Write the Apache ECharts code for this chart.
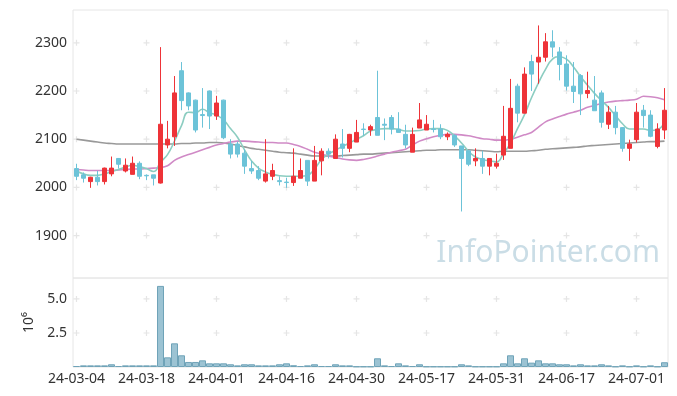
<!DOCTYPE html>
<html><head><meta charset="utf-8">
<script src="https://cdn.jsdelivr.net/npm/echarts@6/dist/echarts.min.js"></script>
<style>html,body{margin:0;padding:0;background:#fff}#c{width:677px;height:396px}</style>
</head><body><div id="c"></div>
<script>
const dates = [
'24-03-04','24-03-05','24-03-06','24-03-07','24-03-08','24-03-11','24-03-12','24-03-13','24-03-14','24-03-15',
'24-03-18','24-03-19','24-03-20','24-03-21','24-03-22','24-03-25','24-03-26','24-03-27','24-03-28','24-03-29',
'24-04-01','24-04-02','24-04-03','24-04-04','24-04-05','24-04-08','24-04-09','24-04-11','24-04-12','24-04-15',
'24-04-16','24-04-17','24-04-18','24-04-19','24-04-22','24-04-23','24-04-24','24-04-25','24-04-26','24-04-29',
'24-04-30','24-05-02','24-05-03','24-05-07','24-05-08','24-05-09','24-05-10','24-05-13','24-05-14','24-05-16',
'24-05-17','24-05-20','24-05-21','24-05-22','24-05-23','24-05-24','24-05-27','24-05-28','24-05-29','24-05-30',
'24-05-31','24-06-03','24-06-04','24-06-05','24-06-07','24-06-10','24-06-11','24-06-12','24-06-13','24-06-14',
'24-06-17','24-06-18','24-06-19','24-06-20','24-06-21','24-06-24','24-06-25','24-06-26','24-06-27','24-06-28',
'24-07-01','24-07-02','24-07-03','24-07-04','24-07-05'];
const opens = [
2039,2026,2012,2021,2012,2028,2060,2034,2027,2050,
2025,2026,2009,2088,2105,2242,2196,2181,2151,2200,
2148,2181,2090,2090,2071,2039,2035,2013,2023,2014,
2011,2010,2019,2056,2013,2055,2075,2060,2090,2081,
2094,2121,2119,2145,2131,2145,2121,2110,2073,2123,
2119,2121,2121,2105,2108,2086,2076,2055,2060,2044,
2044,2067,2081,2210,2154,2261,2260,2270,2302,2281,
2256,2210,2232,2195,2181,2196,2131,2156,2124,2081,
2099,2160,2150,2085,2119];
const closes = [
2023,2019,2021,2012,2040,2040,2048,2046,2050,2023,
2024,2019,2131,2100,2196,2180,2169,2119,2149,2148,
2175,2103,2069,2069,2044,2034,2019,2028,2035,2012,
2010,2023,2035,2013,2056,2075,2069,2100,2081,2110,
2114,2120,2126,2108,2129,2121,2114,2088,2110,2140,
2131,2120,2105,2110,2088,2060,2048,2060,2044,2060,
2050,2106,2164,2154,2235,2235,2270,2302,2291,2255,
2210,2199,2194,2201,2159,2135,2156,2124,2081,2090,
2156,2149,2106,2121,2160];
const lows = [
2015,2010,1999,2004,2006,2023,2039,2031,2027,2017,
2015,2004,2008,2081,2086,2160,2160,2114,2124,2121,
2140,2100,2060,2062,2028,2028,2015,2010,2015,2004,
1999,2003,2019,2003,2013,2025,2060,2060,2062,2073,
2094,2107,2107,2108,2098,2110,2114,2081,2073,2123,
2119,2114,2100,2098,2084,1950,2044,2044,2028,2025,
2039,2057,2081,2135,2154,2200,2215,2261,2270,2222,
2201,2175,2150,2185,2159,2124,2121,2110,2074,2055,
2093,2124,2104,2081,2100];
const highs = [
2049,2031,2022,2034,2041,2064,2061,2060,2064,2054,
2027,2026,2291,2138,2231,2260,2197,2182,2206,2201,
2190,2182,2100,2095,2079,2055,2044,2100,2049,2023,
2020,2081,2060,2056,2086,2081,2081,2110,2121,2111,
2140,2133,2130,2242,2143,2150,2156,2130,2124,2175,
2150,2140,2131,2114,2110,2086,2076,2081,2076,2060,
2070,2169,2225,2215,2249,2275,2336,2320,2326,2291,
2274,2260,2235,2240,2231,2201,2169,2169,2125,2099,
2175,2171,2160,2133,2206];
const ma5 = [
2034,2028,2025,2025,2028,2033,2037,2042,2046,2043,
2039,2033,2052,2068,2096,2128,2156,2155,2162,2155,
2150,2140,2122,2104,2078,2055,2040,2032,2027,2024,
2023,2023,2023,2025,2038,2058,2069,2077,2085,2092,
2100,2107,2117,2120,2122,2122,2120,2117,2117,2118,
2121,2122,2122,2118,2107,2092,2075,2063,2058,2055,
2053,2070,2092,2122,2151,2186,2217,2245,2266,2271,
2266,2250,2230,2212,2195,2180,2166,2149,2132,2121,
2121,2121,2118,2120,2135];
const ma20 = [
2037,2036,2035,2035,2035,2035,2036,2037,2038,2038,
2039,2040,2041,2045,2056,2063,2068,2073,2078,2083,
2088,2091,2094,2096,2096,2095,2094,2093,2093,2092,
2092,2089,2085,2079,2073,2069,2065,2062,2059,2057,
2056,2058,2061,2065,2069,2073,2076,2079,2088,2096,
2101,2105,2108,2110,2110,2109,2107,2104,2101,2100,
2098,2098,2100,2104,2109,2114,2125,2136,2142,2147,
2152,2156,2160,2166,2170,2174,2177,2179,2180,2181,
2183,2189,2188,2186,2182];
const ma60 = [
2100,2098,2096,2094,2092,2091,2090,2090,2090,2090,
2090,2090,2090,2090,2090,2091,2091,2092,2092,2093,
2093,2092,2090,2087,2084,2081,2079,2077,2075,2073,
2072,2071,2069,2067,2065,2065,2065,2065,2066,2067,
2068,2069,2069,2070,2071,2072,2073,2074,2075,2076,
2077,2077,2078,2078,2078,2078,2078,2077,2076,2075,
2074,2075,2075,2075,2075,2076,2077,2079,2080,2081,
2082,2083,2084,2086,2087,2088,2089,2090,2091,2092,
2093,2094,2095,2095,2096];
const volumes = [
70000,120000,120000,120000,120000,200000,70000,120000,120000,120000,
120000,120000,5960000,710000,1740000,860000,370000,370000,490000,270000,
270000,270000,200000,120000,200000,200000,120000,120000,120000,200000,
270000,130000,70000,120000,200000,70000,70000,200000,120000,120000,
40000,40000,40000,640000,120000,70000,270000,120000,70000,200000,
40000,40000,40000,40000,40000,200000,120000,40000,40000,40000,
40000,270000,860000,270000,640000,320000,490000,270000,270000,200000,
200000,120000,200000,120000,120000,200000,120000,40000,120000,40000,
120000,40000,120000,40000,350000];
const priceTicks = [1900,2000,2100,2200,2300];
const volTicks = [2500000,5000000];
const tickEvery = 10;

const ohlc = dates.map((d,i)=>[opens[i],closes[i],lows[i],highs[i]]);
const tickCats = dates.filter((d,i)=>i%tickEvery===0);
const crossPath = 'path://M0,2h5v1h-5z M2,0h1v5h-1z';
const priceCross = [], volCross = [];
tickCats.forEach(c=>{priceTicks.forEach(v=>priceCross.push([c,v])); volTicks.forEach(v=>volCross.push([c,v]));});

const FONT = 'Noto Sans';
const chart = echarts.init(document.getElementById('c'), null, {renderer:'canvas'});
chart.setOption({
  animation:false,
  backgroundColor:'#fff',
  textStyle:{fontFamily:FONT},
  grid:[
    {left:73, top:10, width:595, height:268, show:true, borderColor:'#e6e6e6', borderWidth:1, backgroundColor:'transparent'},
    {left:73, top:278, width:595, height:89, show:true, borderColor:'#e6e6e6', borderWidth:1, backgroundColor:'transparent'}
  ],
  graphic:[{type:'text', right:17, top:238, z:0, silent:true,
    style:{text:'InfoPointer.com', font:'30px "Noto Sans"', fill:'#cadde6'}}],
  xAxis:[
    {type:'category', gridIndex:0, data:dates, boundaryGap:true,
     axisLine:{show:false}, axisTick:{show:false}, axisLabel:{show:false}, splitLine:{show:false}},
    {type:'category', gridIndex:1, data:dates, boundaryGap:true,
     axisLine:{show:false}, axisTick:{show:false}, splitLine:{show:false},
     axisLabel:{interval:tickEvery-1, color:'#333', fontSize:14, fontFamily:FONT, margin:5, hideOverlap:false}}
  ],
  yAxis:[
    {type:'value', gridIndex:0, min:1812, max:2368, scale:true,
     axisLine:{show:false}, axisTick:{show:false}, splitLine:{show:false},
     axisLabel:{color:'#333', fontSize:14, fontFamily:FONT, margin:6, showMinLabel:false, showMaxLabel:false,
       formatter:v=>String(v)}},
    {type:'value', gridIndex:1, min:0, max:6540000, interval:2500000,
     name:'10\u2076', nameLocation:'middle', nameGap:37, nameRotate:90,
     nameTextStyle:{color:'#333', fontSize:14, fontFamily:FONT},
     axisLine:{show:false}, axisTick:{show:false}, splitLine:{show:false},
     axisLabel:{color:'#333', fontSize:14, fontFamily:FONT, margin:6, showMaxLabel:false,
       formatter:v=> v===0 ? '' : (v/1e6).toFixed(1)}}
  ],
  series:[
    {type:'scatter', xAxisIndex:0, yAxisIndex:0, data:priceCross, symbol:crossPath, symbolSize:6,
     itemStyle:{color:'#dedede'}, silent:true, z:1},
    {type:'scatter', xAxisIndex:1, yAxisIndex:1, data:volCross, symbol:crossPath, symbolSize:6,
     itemStyle:{color:'#dedede'}, silent:true, z:1},
    {type:'line', name:'MA60', xAxisIndex:0, yAxisIndex:0, data:ma60, smooth:true, showSymbol:false,
     lineStyle:{color:'#999999', width:1.6}, z:2},
    {type:'line', name:'MA20', xAxisIndex:0, yAxisIndex:0, data:ma20, smooth:0.3, showSymbol:false,
     lineStyle:{color:'#d08ac6', width:1.6}, z:2},
    {type:'line', name:'MA5', xAxisIndex:0, yAxisIndex:0, data:ma5, smooth:true, showSymbol:false,
     lineStyle:{color:'#8ccdc1', width:1.6}, z:2},
    {type:'candlestick', xAxisIndex:0, yAxisIndex:0, data:ohlc, barWidth:5,
     itemStyle:{color:'#ee3338', color0:'#6cc3d8', borderColor:'#ee3338', borderColor0:'#6cc3d8', borderWidth:1}, z:3},
    {type:'bar', xAxisIndex:1, yAxisIndex:1, data:volumes, barCategoryGap:0,
     itemStyle:{color:'#9cc3d3', borderColor:'#6fa3b8', borderWidth:1}, z:3}
  ]
});
</script></body></html>
